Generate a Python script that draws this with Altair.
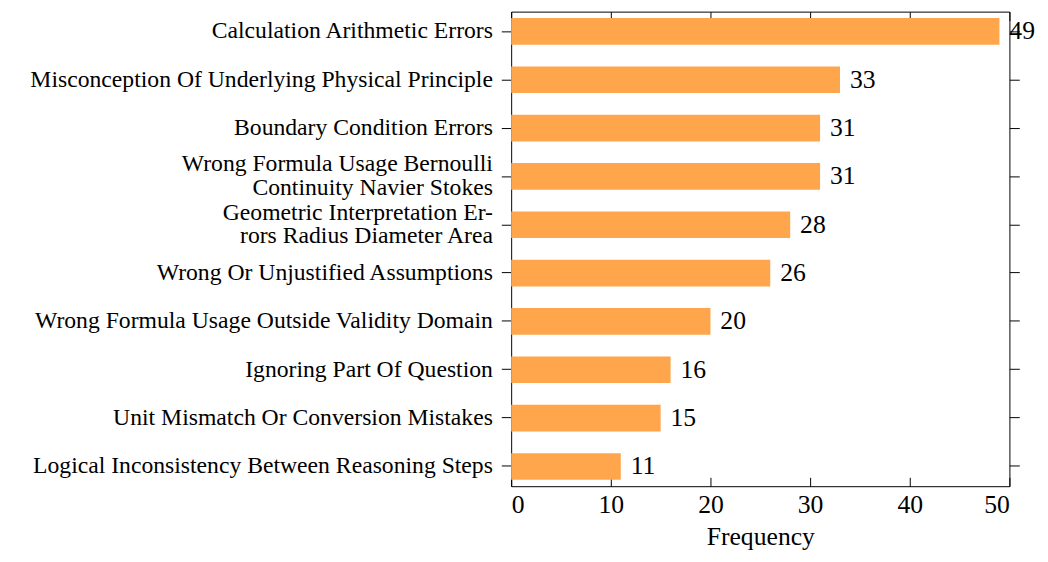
import altair as alt
import pandas as pd

categories = [
    "Calculation Arithmetic Errors",
    "Misconception Of Underlying Physical Principle",
    "Boundary Condition Errors",
    "Wrong Formula Usage Bernoulli|Continuity Navier Stokes",
    "Geometric Interpretation Er-|rors Radius Diameter Area",
    "Wrong Or Unjustified Assumptions",
    "Wrong Formula Usage Outside Validity Domain",
    "Ignoring Part Of Question",
    "Unit Mismatch Or Conversion Mistakes",
    "Logical Inconsistency Between Reasoning Steps",
]
counts = [49, 33, 31, 31, 28, 26, 20, 16, 15, 11]
x_ticks = [0, 10, 20, 30, 40, 50]

W, H = 505, 481
TICK = 9
LINE_H = 24
FONT = "Liberation Serif"

df = pd.DataFrame({"category": categories, "count": counts})

yscale = alt.Scale(paddingInner=0.449, paddingOuter=0.133)
xscale = alt.Scale(domain=[0, 50], nice=False, zero=True)

bars = alt.Chart(df).mark_bar(color="#FFA64D").encode(
    x=alt.X("count:Q", scale=xscale,
            axis=alt.Axis(values=x_ticks, ticks=False, domain=False,
                          grid=True, gridColor="black", gridOpacity=1, gridWidth=1,
                          gridDash=[TICK, H - 2 * TICK, TICK],
                          labelFontSize=26, labelPadding=6, title="Frequency",
                          titleFontSize=26, titleFontWeight="normal", titlePadding=6,
                          labelColor="black", titleColor="black", labelFont=FONT,
                          titleFont=FONT)),
    y=alt.Y("category:N", sort=categories, scale=yscale,
            axis=alt.Axis(title=None, labelExpr="split(datum.value, '|')",
                          labelFontSize=24, labelLineHeight=LINE_H, tickSize=10,
                          labelOffset={"condition": {"test": "indexof(datum.value, '|') >= 0",
                                                     "value": -LINE_H / 2},
                                       "value": 0},
                          labelPadding=9, domain=False, labelLimit=0, labelFont=FONT,
                          labelColor="black", tickColor="black", grid=False)),
)

text = alt.Chart(df).mark_text(align="left", baseline="middle", dx=10, fontSize=26,
                               font=FONT, color="black").encode(
    x=alt.X("count:Q", scale=xscale, axis=None),
    y=alt.Y("category:N", sort=categories, scale=yscale,
            axis=alt.Axis(orient="right", labels=False, title=None, tickSize=10,
                          domain=False, tickColor="black", grid=False)),
    text="count:Q",
)

chart = alt.layer(bars, text).resolve_axis(
    y="independent", x="independent"
).properties(
    width=W, height=H,
    padding={"left": 21, "top": 0, "right": 5, "bottom": 0},
).configure(
    font=FONT, background="white"
).configure_view(
    stroke="black", strokeWidth=1
)

chart.save("out.html", embed_options={"renderer": "svg", "actions": False})
